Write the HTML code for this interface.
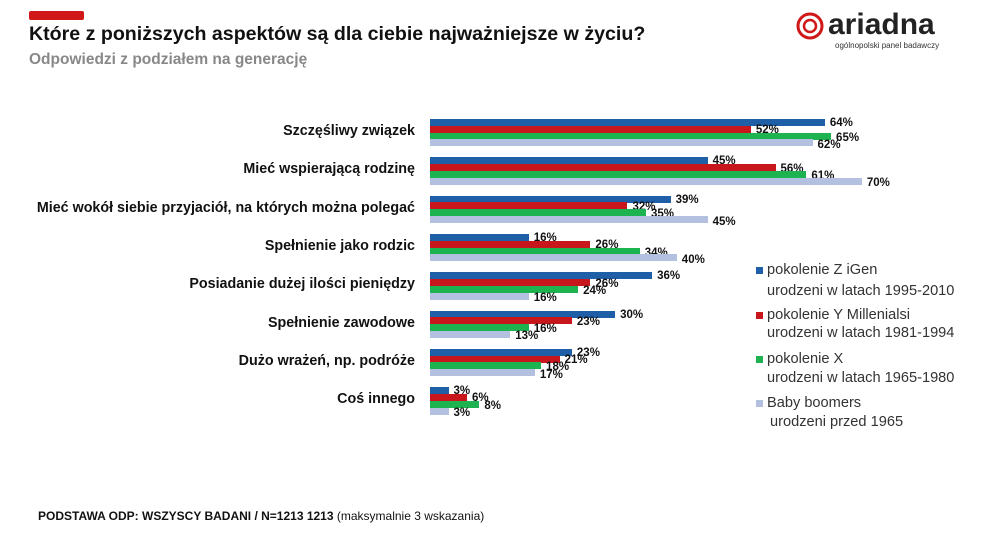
<!DOCTYPE html>
<html><head><meta charset="utf-8"><style>
body{margin:0;width:995px;height:539px;background:#fff;font-family:"Liberation Sans",sans-serif;position:relative;overflow:hidden}
.a{position:absolute;white-space:nowrap}
.cat{position:absolute;right:580px;font-weight:bold;font-size:14.3px;color:#111;white-space:nowrap}
.bar{position:absolute;left:430px;height:7px}
.v{position:absolute;font-weight:bold;font-size:11.5px;color:#111}
.lg{position:absolute;left:767px;font-size:14.6px;color:#333;white-space:nowrap}
.sq{position:absolute;left:756px;width:7px;height:7px}
</style></head><body>
<div class="a" style="left:29px;top:11px;width:55px;height:9px;background:#d01818;border-radius:2px"></div>
<div class="a" style="left:29px;top:23px;font-size:19.6px;font-weight:bold;color:#111">Które z poniższych aspektów są dla ciebie najważniejsze w życiu?</div>
<div class="a" style="left:29px;top:51px;font-size:15.5px;font-weight:bold;color:#888">Odpowiedzi z podziałem na generację</div>
<svg class="a" style="left:796px;top:10px" width="30" height="32"><circle cx="14" cy="16" r="12" fill="none" stroke="#d01818" stroke-width="3"/><circle cx="14" cy="16" r="6" fill="none" stroke="#d01818" stroke-width="2.5"/></svg>
<div class="a" style="left:828px;top:8px;font-size:30px;font-weight:bold;color:#222">ariadna</div>
<div class="a" style="left:835px;top:41px;font-size:8px;color:#333">ogólnopolski panel badawczy</div>
<div id="c"></div>
<div class="sq" style="top:267px;background:#1f5fa8"></div><div class="lg" style="top:262px">pokolenie Z iGen</div><div class="lg" style="top:283px">urodzeni w latach 1995-2010</div>
<div class="sq" style="top:312px;background:#c8161d"></div><div class="lg" style="top:307px">pokolenie Y Millenialsi</div><div class="lg" style="top:325px">urodzeni w latach 1981-1994</div>
<div class="sq" style="top:356px;background:#1db350"></div><div class="lg" style="top:351px">pokolenie X</div><div class="lg" style="top:370px">urodzeni w latach 1965-1980</div>
<div class="sq" style="top:400px;background:#b4c0e0"></div><div class="lg" style="top:395px">Baby boomers</div><div class="lg" style="top:414px;left:770px">urodzeni przed 1965</div>
<div class="a" style="left:38px;top:509px;font-size:12px;font-weight:bold;color:#111">PODSTAWA ODP: WSZYSCY BADANI / N=1213 1213 <span style="font-weight:normal">(maksymalnie 3 wskazania)</span></div>
<script>
var d=[["Szczęśliwy związek",64,52,65,62],["Mieć wspierającą rodzinę",45,56,61,70],["Mieć wokół siebie przyjaciół, na których można polegać",39,32,35,45],["Spełnienie jako rodzic",16,26,34,40],["Posiadanie dużej ilości pieniędzy",36,26,24,16],["Spełnienie zawodowe",30,23,16,13],["Dużo wrażeń, np. podróże",23,21,18,17],["Coś innego",3,6,8,3]];
var col=["#1f5fa8","#c8161d","#1db350","#b4c0e0"],h="";
d.forEach(function(r,i){var y=119+i*38.3;
h+='<div class="cat" style="top:'+(y+4)+'px">'+r[0]+'</div>';
for(var k=0;k<4;k++){var w=r[k+1]*6.17,yy=y+k*6.8;
h+='<div class="bar" style="top:'+yy+'px;width:'+w+'px;background:'+col[k]+'"></div>';
h+='<div class="v" style="left:'+(430+w+5)+'px;top:'+(yy-2+k*0.5)+'px">'+r[k+1]+'%</div>';}});
document.getElementById("c").innerHTML=h;
</script>
</body></html>
